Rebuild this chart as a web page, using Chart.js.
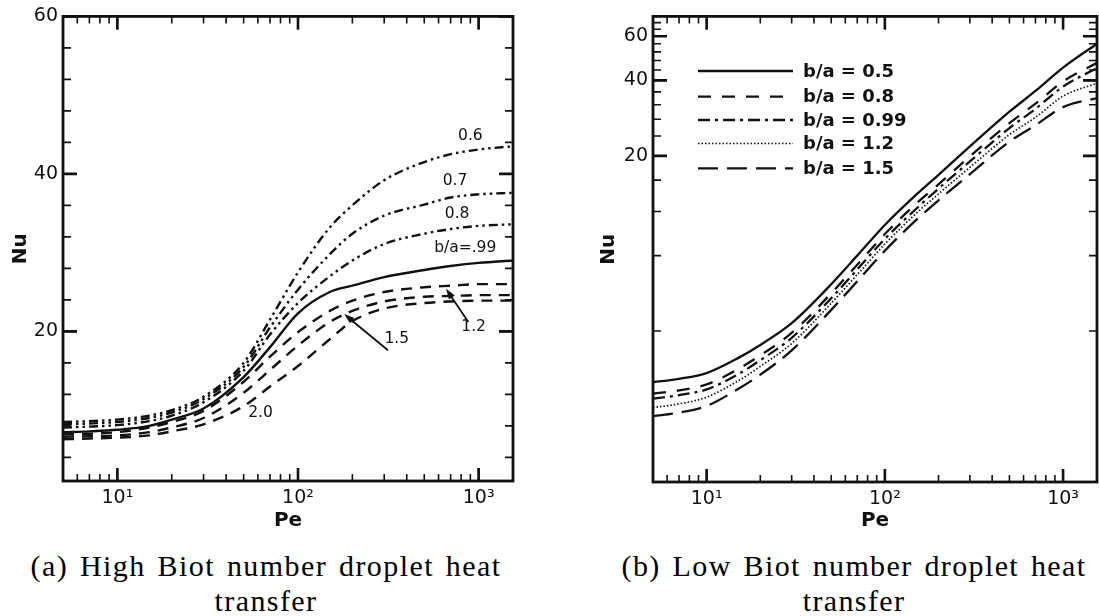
<!DOCTYPE html>
<html><head><meta charset="utf-8">
<script src="https://cdn.jsdelivr.net/npm/chart.js@4.4.1/dist/chart.umd.min.js"></script>
<style>
html,body{margin:0;padding:0;background:#fff;width:1099px;height:616px;overflow:hidden;position:relative;}
#c1{position:absolute;left:0;top:0;width:530px;height:545px;}
#c2{position:absolute;left:560px;top:0;width:539px;height:545px;}
.cap{position:absolute;font-family:"Liberation Serif","Times New Roman",serif;color:#000;white-space:nowrap;line-height:1;transform:translate(-50%,-50%);}
</style></head><body>
<canvas id="c1" width="530" height="545"></canvas>
<canvas id="c2" width="539" height="545"></canvas>
<div class="cap" id="capA1" style="left:266px;top:566px;">(a) High Biot number droplet heat</div>
<div class="cap" id="capA2" style="left:266px;top:601px;">transfer</div>
<div class="cap" id="capB1" style="left:854px;top:566px;">(b) Low Biot number droplet heat</div>
<div class="cap" id="capB2" style="left:854px;top:601px;">transfer</div>
<script>
// ---------- data (a): high Biot number ----------
const peA = [5,7,10,15,20,30,50,70,100,150,200,300,500,700,1000,1550];
const nuA06  = [8.5,8.6,8.8,9.3,10.0,11.7,16.0,21.5,27.5,33.2,36.0,39.2,41.5,42.5,43.1,43.5];
const nuA07  = [8.2,8.3,8.5,9.0,9.7,11.4,15.5,20.5,25.3,29.8,32.4,34.7,36.1,37.0,37.4,37.6];
const nuA08  = [7.8,7.9,8.1,8.6,9.3,11.0,15.0,19.6,23.6,27.0,29.0,31.1,32.4,33.0,33.4,33.6];
const nuA099 = [7.2,7.3,7.5,8.0,8.8,10.2,14.2,18.0,22.3,25.0,25.8,26.9,27.8,28.3,28.7,29.0];
const nuA12  = [6.9,7.0,7.2,7.8,8.5,9.9,13.6,16.8,19.9,22.6,23.9,25.0,25.6,25.8,26.0,26.0];
const nuA15  = [6.6,6.7,6.8,7.2,7.8,9.0,12.2,15.1,18.2,21.2,22.6,23.8,24.4,24.5,24.6,24.6];
const nuA20  = [6.3,6.4,6.5,6.8,7.3,8.2,10.5,13.0,15.6,19.0,21.3,22.9,23.6,23.8,23.9,23.9];
const seriesA = ['0.6','0.7','0.8','0.99','1.2','1.5','2.0'];

// annotations of (a), in data coordinates
const annoText = ['0.6','0.7','0.8','b/a=.99','1.2','1.5','2.0'];
const annoPe   = [900,740,760,843,938,352,62];
const annoNu   = [44.8,39.1,34.9,30.6,20.5,19.0,9.7];
const arrowFromPe = [315,877], arrowFromNu = [17.6,21.2];
const arrowToPe   = [180,660], arrowToNu   = [22.2,25.4];

// ---------- data (b): low Biot number ----------
const peB = [5,7,10,15,20,30,50,70,100,150,200,300,500,700,1000,1550];
const nuB05  = [2.50,2.58,2.72,3.12,3.52,4.3,6.15,8.0,10.6,14.0,16.8,21.8,30.0,36.3,45.0,56.0];
const nuB08  = [2.25,2.32,2.45,2.82,3.2,3.93,5.66,7.36,9.75,12.9,15.4,19.9,27.0,32.3,39.6,47.0];
const nuB099 = [2.15,2.22,2.34,2.69,3.06,3.76,5.41,7.04,9.33,12.3,14.8,19.0,25.8,30.8,37.8,44.8];
const nuB12  = [1.98,2.05,2.18,2.53,2.89,3.57,5.17,6.72,8.9,11.8,14.1,18.0,24.3,28.5,34.6,39.0];
const nuB15  = [1.83,1.89,2.01,2.35,2.68,3.35,4.86,6.32,8.37,11.1,13.3,16.9,22.8,26.5,31.3,34.0];
const seriesB = ['b/a = 0.5','b/a = 0.8','b/a = 0.99','b/a = 1.2','b/a = 1.5'];

// ---------- ticks ----------
const xTickValues = [5,6,7,8,9,10,20,30,40,50,60,70,80,90,100,200,300,400,500,600,700,800,900,1000];
const xMajorTicks = [10,100,1000];
const xTickLabels = ['10\u00b9','10\u00b2','10\u00b3'];
const yTickValuesA = [4,8,12,16,20,24,28,32,36,40,44,48,52,56,60];
const yMajorA = [20,40,60];
const yTickValuesB = [4,8,12,16,20,24,28,32,36,40,44,48,52,56,60,64,68];
const yMajorB = [20,40,60];

const INK = '#111';
const TICKFONT = {family:'DejaVu Sans', size:19};
const TITLEFONT = {family:'DejaVu Sans', size:20, weight:'bold'};

function pts(xs, ys){ return xs.map((x,i)=>({x:x, y:ys[i]})); }

const framePlugin = {
  id:'frame',
  afterDatasetsDraw(chart, args, o){
    const {ctx, chartArea:{left,right,top,bottom}, scales:{x,y}} = chart;
    ctx.save();
    ctx.strokeStyle = INK; ctx.lineWidth = 1.6; ctx.lineCap='butt';
    ctx.beginPath();
    x.ticks.forEach(t=>{
      const px = x.getPixelForValue(t.value);
      const L = o.xMajor.includes(t.value) ? 13 : 7;
      ctx.moveTo(px,bottom); ctx.lineTo(px,bottom-L);
      ctx.moveTo(px,top); ctx.lineTo(px,top+L);
    });
    y.ticks.forEach(t=>{
      const py = y.getPixelForValue(t.value);
      const L = o.yMajor.includes(t.value) ? 14 : 8;
      ctx.moveTo(left,py); ctx.lineTo(left+L,py);
      ctx.moveTo(right,py); ctx.lineTo(right-L,py);
    });
    ctx.stroke();
    ctx.lineWidth = 2.6; ctx.beginPath();
    x.ticks.forEach(t=>{ if(o.xMajor.includes(t.value)){ const px=x.getPixelForValue(t.value);
      ctx.moveTo(px,bottom); ctx.lineTo(px,bottom-13); ctx.moveTo(px,top); ctx.lineTo(px,top+13);} });
    y.ticks.forEach(t=>{ if(o.yMajor.includes(t.value)){ const py=y.getPixelForValue(t.value);
      ctx.moveTo(left,py); ctx.lineTo(left+14,py); ctx.moveTo(right,py); ctx.lineTo(right-14,py);} });
    ctx.stroke();
    ctx.lineWidth = 2.8;
    ctx.strokeRect(left,top,right-left,bottom-top);
    ctx.restore();
  }
};

const annoPlugin = {
  id:'anno',
  afterDatasetsDraw(chart){
    const {ctx, scales:{x,y}} = chart;
    ctx.save();
    ctx.fillStyle = INK; ctx.strokeStyle = INK;
    ctx.font = '15.5px "DejaVu Sans"';
    ctx.textAlign='center'; ctx.textBaseline='middle';
    annoText.forEach((t,i)=>{ ctx.fillText(t, x.getPixelForValue(annoPe[i]), y.getPixelForValue(annoNu[i])); });
    ctx.lineWidth = 1.8;
    arrowFromPe.forEach((p,i)=>{
      const x0=x.getPixelForValue(p), y0=y.getPixelForValue(arrowFromNu[i]);
      const x1=x.getPixelForValue(arrowToPe[i]), y1=y.getPixelForValue(arrowToNu[i]);
      const a=Math.atan2(y1-y0,x1-x0), h=11, w=0.32;
      ctx.beginPath(); ctx.moveTo(x0,y0); ctx.lineTo(x1-Math.cos(a)*h*0.7,y1-Math.sin(a)*h*0.7); ctx.stroke();
      ctx.beginPath(); ctx.moveTo(x1,y1);
      ctx.lineTo(x1-h*Math.cos(a-w), y1-h*Math.sin(a-w));
      ctx.lineTo(x1-h*Math.cos(a+w), y1-h*Math.sin(a+w));
      ctx.closePath(); ctx.fill();
    });
    ctx.restore();
  }
};

const legendPlugin = {
  id:'legendB',
  afterDatasetsDraw(chart){
    const {ctx} = chart;
    const rows = [71,96.7,120,143.5,168.3];
    ctx.save();
    chart.data.datasets.forEach((ds,i)=>{
      ctx.strokeStyle = ds.borderColor; ctx.lineWidth = ds.borderWidth;
      ctx.setLineDash(ds.borderDash || []);
      ctx.beginPath(); ctx.moveTo(138, rows[i]); ctx.lineTo(233, rows[i]); ctx.stroke();
      ctx.setLineDash([]);
      ctx.fillStyle = INK; ctx.font = 'bold 18px "DejaVu Sans"';
      ctx.textAlign='left'; ctx.textBaseline='middle';
      ctx.fillText(ds.label, 243, rows[i]+1);
    });
    ctx.restore();
  }
};

function xScale(h){
  return {
    type:'logarithmic', min:5, max:1550,
    afterBuildTicks: s => { s.ticks = xTickValues.map(v=>({value:v})); },
    afterFit: s => { s.height = h; },
    grid:{display:false, drawTicks:false}, border:{display:false},
    ticks:{autoSkip:false, maxRotation:0, minRotation:0, padding:6, color:INK, font:TICKFONT,
      callback: v => { const k = xMajorTicks.indexOf(v); return k>=0 ? xTickLabels[k] : ''; }},
    title:{display:true, text:'Pe', color:INK, font:TITLEFONT, padding:{top:0,bottom:12}}
  };
}
function yScale(type, min, max, vals, majors, w, tpad){
  return {
    type:type, min:min, max:max,
    afterBuildTicks: s => { s.ticks = vals.map(v=>({value:v})); },
    afterFit: s => { s.width = w; },
    grid:{display:false, drawTicks:false}, border:{display:false},
    ticks:{autoSkip:false, padding:5, color:INK, font:TICKFONT,
      callback: v => majors.includes(v) ? String(v) : ''},
    title:{display:true, text:'Nu', color:INK, font:TITLEFONT, padding:{top:tpad,bottom:0}}
  };
}

const ddot = [9,4,2.5,4,2.5,4], dash = [11,8];
const stylesA = [
  {d:ddot,w:2.4},{d:ddot,w:2.4},{d:ddot,w:2.4},{d:[],w:2.4},{d:dash,w:2.4},{d:dash,w:2.4},{d:dash,w:2.4}
];
const valsA = [nuA06,nuA07,nuA08,nuA099,nuA12,nuA15,nuA20];

new Chart(document.getElementById('c1'), {
  type:'line',
  data:{ datasets: seriesA.map((lab,i)=>({
    label:lab, data:pts(peA, valsA[i]), borderColor:INK, borderWidth:stylesA[i].w,
    borderDash:stylesA[i].d, pointRadius:0, fill:false, cubicInterpolationMode:'monotone'
  }))},
  options:{
    responsive:false, animation:false, devicePixelRatio:1,
    layout:{padding:{left:0,right:17,top:15,bottom:0}},
    plugins:{legend:{display:false}, tooltip:{enabled:false}, frame:{xMajor:xMajorTicks, yMajor:yMajorA}},
    scales:{ x:xScale(64), y:yScale('linear',1,60,yTickValuesA,yMajorA,63,9) }
  },
  plugins:[framePlugin, annoPlugin]
});

const stylesB = [
  {d:[],w:2.3},{d:[13,11],w:2.3},{d:[12,5,3,5],w:2.3},{d:[1.5,2],w:1.7},{d:[20,9],w:2.3}
];
const valsB = [nuB05,nuB08,nuB099,nuB12,nuB15];

new Chart(document.getElementById('c2'), {
  type:'line',
  data:{ datasets: seriesB.map((lab,i)=>({
    label:lab, data:pts(peB, valsB[i]), borderColor:INK, borderWidth:stylesB[i].w,
    borderDash:stylesB[i].d, pointRadius:0, fill:false, cubicInterpolationMode:'monotone'
  }))},
  options:{
    responsive:false, animation:false, devicePixelRatio:1,
    layout:{padding:{left:0,right:2,top:16,bottom:0}},
    plugins:{legend:{display:false}, tooltip:{enabled:false}, frame:{xMajor:xMajorTicks, yMajor:yMajorB}},
    scales:{ x:xScale(63), y:yScale('logarithmic',1,72,yTickValuesB,yMajorB,93,37) }
  },
  plugins:[framePlugin, legendPlugin]
});

// caption sizing: match reference line widths
(function(){
  const c = document.createElement('canvas').getContext('2d');
  const fs = 30, ws = 3;
  c.font = fs + 'px "Liberation Serif"';
  const ls = {};
  [['capA1',471],['capB1',465]].forEach(([id,target])=>{
    const el = document.getElementById(id);
    const txt = el.textContent;
    const nSp = txt.split(' ').length - 1;
    const w = c.measureText(txt).width + nSp*ws;
    el.style.fontSize = fs+'px';
    el.style.wordSpacing = ws+'px';
    ls[id] = ((target - w)/txt.length).toFixed(2)+'px';
    el.style.letterSpacing = ls[id];
  });
  [['capA2','capA1'],['capB2','capB1']].forEach(([id,ref])=>{
    const el = document.getElementById(id);
    el.style.fontSize = fs+'px';
    el.style.letterSpacing = ls[ref];
  });
})();
</script>
</body></html>
